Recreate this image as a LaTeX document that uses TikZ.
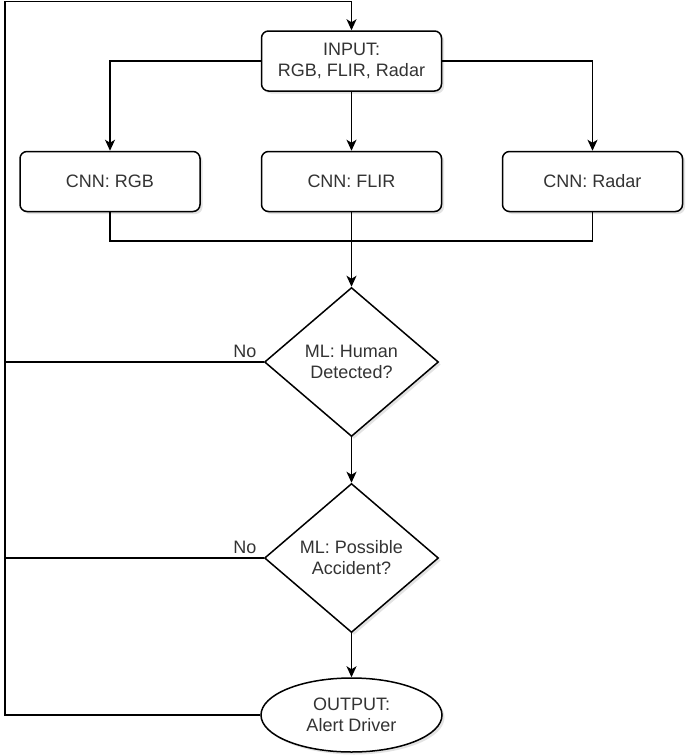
\documentclass[tikz,border=0pt]{standalone}
\usepackage{fontspec}
\setmainfont{Liberation Sans}
\usetikzlibrary{shapes.geometric,arrows.meta,shadows}
\definecolor{txt}{RGB}{51,51,51}
\begin{document}
\begin{tikzpicture}[x=1pt,y=-1pt,
  base/.style={draw=black, line width=1.5pt, fill=white, text=txt, align=center,
    font=\fontsize{18}{21}\selectfont, inner sep=0pt,
    drop shadow={shadow xshift=2.5pt, shadow yshift=-2.5pt, opacity=0.18, fill=black!60}},
  stepbox/.style={base, rounded corners=7pt, minimum width=180pt, minimum height=60pt},
  decision/.style={base, diamond, aspect=1.17, minimum width=174pt, minimum height=149pt},
  terminal/.style={base, ellipse, minimum width=181pt, minimum height=74pt},
  conn/.style={draw=black, line width=1.5pt},
  arrow/.style={conn, -{Stealth[length=11pt,width=10pt,inset=3pt]}},
  lbl/.style={text=txt, font=\fontsize{18}{21}\selectfont, inner sep=0pt}
]
\useasboundingbox (0,0) rectangle (686,755);

\node[stepbox] (in) at (351.5,61) {INPUT:\\RGB, FLIR, Radar};
\node[stepbox] (rgb) at (110,181.5) {CNN: RGB};
\node[stepbox] (flir) at (351.5,181.5) {CNN: FLIR};
\node[stepbox] (radar) at (592.5,181.5) {CNN: Radar};
\node[decision] (d1) at (351.5,362) {ML: Human\\Detected?};
\node[decision] (d2) at (351.5,558) {ML: Possible\\Accident?};
\node[terminal] (out) at (351.5,715) {OUTPUT:\\Alert Driver};

\coordinate (merge) at (351.5,241);
\coordinate (tl) at (5,1.5);

\draw[arrow] (in) -- (flir);
\draw[arrow] (in.west) -| (rgb);
\draw[arrow] (in.east) -| (radar);
\draw[conn] (rgb.south) |- (merge);
\draw[conn] (radar.south) |- (merge);
\draw[arrow] (flir) -- (d1);
\draw[arrow] (d1) -- (d2);
\draw[arrow] (d2) -- (out);
\draw[arrow] (out.west) -| (tl) -| (in.north);
\draw[conn] (d1.west) -- (d1.west -| tl)
  node[lbl, pos=0, anchor=base east, xshift=-6.5pt, yshift=5pt] (no1) {No};
\draw[conn] (d2.west) -- (d2.west -| tl)
  node[lbl, pos=0, anchor=base east, xshift=-6.5pt, yshift=5pt] (no2) {No};
\end{tikzpicture}
\end{document}
